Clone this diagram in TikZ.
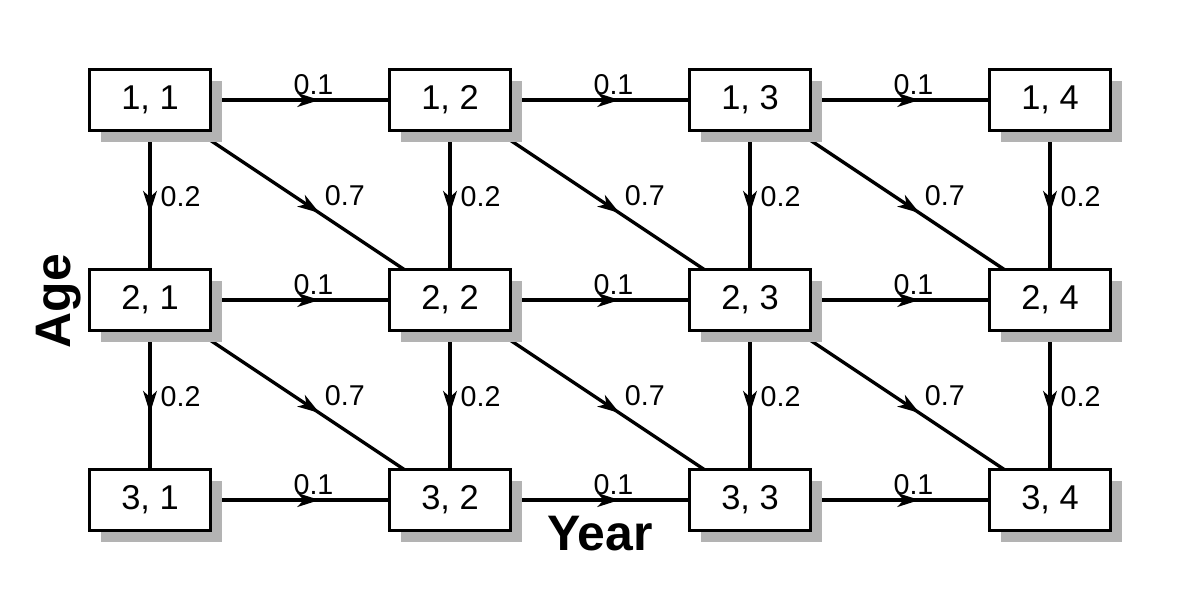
\documentclass[tikz,border=0pt]{standalone}
\usepackage{fontspec}
\setmainfont{Liberation Sans}
\usetikzlibrary{arrows.meta,decorations.markings,shadows}
\pgfdeclarelayer{bg}
\pgfsetlayers{bg,main}
\definecolor{shadowgray}{RGB}{179,179,179}
\tikzset{
  statebox/.style={draw=black, line width=1.9pt, fill=white, minimum width=2.42cm, minimum height=1.22cm, inner sep=0pt,
    font=\fontsize{19.6}{22}\selectfont,
    general shadow={fill=shadowgray, shadow xshift=6.8pt, shadow yshift=-6.8pt}},
  conn/.style={line width=1.9pt, postaction={decorate},
    decoration={markings, mark=at position 0.565 with {\arrow{Stealth[length=12.5pt,width=7.8pt,inset=3.5pt]}}}},
  prob/.style={font=\fontsize{16.3}{18}\selectfont, inner sep=0pt},
  hlab/.style={prob, pos=0.545, anchor=south, yshift=2.3pt},
  vlab/.style={prob, pos=0.485, anchor=west, xshift=5.1pt},
  dlab/.style={prob, pos=0.55, anchor=center, xshift=17pt, yshift=7.9pt},
  axislab/.style={font=\fontsize{28.4}{32}\selectfont\bfseries, inner sep=0pt}
}
\begin{document}
\begin{tikzpicture}[x=0.02cm,y=-0.02cm]
\useasboundingbox (0,0) rectangle (1200,600);
\begin{pgfonlayer}{bg}
\fill[white] (0,0) rectangle (1200,600);
\end{pgfonlayer}
\foreach \ri/\yy in {1/100,2/300,3/500}
  \foreach \ci/\xx in {1/150,2/450,3/750,4/1050}
    \node[statebox] (n\ri\ci) at (\xx,\yy) {\ri, \ci};
\begin{pgfonlayer}{bg}
\foreach \ri in {1,2,3}
  \foreach \ci/\cn in {1/2,2/3,3/4}
    \draw[conn] (n\ri\ci.center) -- node[hlab] {0.1} (n\ri\cn.center);
\foreach \ri/\rn in {1/2,2/3}
  \foreach \ci in {1,2,3,4}
    \draw[conn] (n\ri\ci.center) -- node[vlab] {0.2} (n\rn\ci.center);
\foreach \ri/\rn in {1/2,2/3}
  \foreach \ci/\cn in {1/2,2/3,3/4}
    \draw[conn] (n\ri\ci.center) -- node[dlab] {0.7} (n\rn\cn.center);
\end{pgfonlayer}
\node[axislab, anchor=base] (year) at (600,550) {Year};
\node[axislab, rotate=90, anchor=base] (age) at (70,301) {Age};
\end{tikzpicture}
\end{document}
